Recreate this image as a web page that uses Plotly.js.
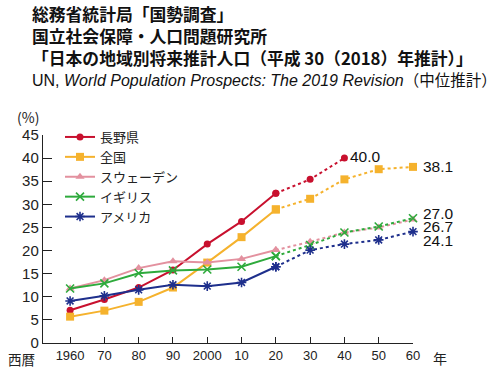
<!DOCTYPE html>
<html><head><meta charset="utf-8">
<script src="https://cdn.plot.ly/plotly-3.0.1.min.js"></script>
<style>html,body{margin:0;padding:0;background:#fff}#c{width:499px;height:368px}</style>
</head><body><div id="c"></div>
<script>
const years = [1960,1970,1980,1990,2000,2010,2020,2030,2040,2050,2060];
const tickText = ['1960','70','80','90','2000','10','20','30','40','50','60'];
const names = ['長野県','全国','スウェーデン','イギリス','アメリカ'];
const nagano = [7.1,9.4,12.0,15.8,21.4,26.3,32.4,35.4,40.0,null,null];
const zenkoku = [5.7,7.0,8.9,12.0,17.4,22.9,28.9,31.2,35.4,37.6,38.1];
const sweden = [11.8,13.6,16.2,17.7,17.4,18.2,20.1,21.9,23.9,25.0,26.7];
const uk = [11.8,12.9,15.1,15.7,15.9,16.5,18.8,21.2,23.9,25.2,27.0];
const usa = [9.1,10.2,11.5,12.6,12.3,13.1,16.5,20.1,21.4,22.3,24.1];

const series = [nagano, zenkoku, sweden, uk, usa];
const colors = ['#c8102e','#f5b22d','#e3919f','#2eaa3c','#1e2f8c'];
const symbols = ['circle','square','triangle-up','x-thin-open','asterisk-open'];
const sizes = [7,8,8,8,8];
const split = 6; // index of 2020

const traces = [];
series.forEach((s,i)=>{
  const mk = {symbol:symbols[i], size:sizes[i], color:colors[i], line:{color:colors[i], width:(i>=3?1.6:0)}};
  traces.push({x:years.slice(0,split+1), y:s.slice(0,split+1), name:names[i], mode:'lines+markers',
    line:{color:colors[i], width:2}, marker:mk, cliponaxis:false});
});
series.forEach((s,i)=>{
  const mk = {symbol:symbols[i], size:sizes[i], color:colors[i], line:{color:colors[i], width:(i>=3?1.6:0)}};
  traces.push({x:years.slice(split), y:s.slice(split), name:names[i], mode:'lines+markers', showlegend:false,
    line:{color:colors[i], width:2, dash:'dot'}, marker:mk, cliponaxis:false});
});

const L=43, R=413, T=135, B=343;
const xp = px => (px-L)/(R-L);
const yp = py => (B-py)/(B-T);
const cjk = '"Noto Sans CJK JP", sans-serif';
const sans = '"Liberation Sans", Arial, sans-serif';

function lastVal(s){ for(let k=s.length-1;k>=0;k--){ if(s[k]!==null) return [years[k], s[k]]; } }
const ann = [];
const titleLines = ['総務省統計局「国勢調査」','国立社会保障・人口問題研究所','「日本の地域別将来推計人口（平成 30（2018）年推計）」'];
ann.push({xref:'paper',yref:'paper',x:xp(31),y:yp(36),xanchor:'left',yanchor:'middle',align:'left',
  text:titleLines.map(t=>'<b>'+t+'</b>').join('<br>'),showarrow:false,borderpad:0,font:{family:cjk,size:16.8,color:'#111'}});
ann.push({xref:'paper',yref:'paper',x:xp(31),y:yp(79),xanchor:'left',yanchor:'middle',borderpad:0,
  text:'UN, <i>World Population Prospects: The 2019 Revision</i><span style="font-family:\'Noto Sans CJK JP\';font-size:15.5px">（中位推計）</span>',
  showarrow:false,font:{family:sans,size:16,color:'#111'}});
ann.push({xref:'paper',yref:'paper',x:xp(28),y:yp(117),xanchor:'center',yanchor:'middle',text:'(%)',showarrow:false,
  font:{family:cjk,size:14,color:'#222'}});
ann.push({xref:'paper',yref:'paper',x:xp(21),y:yp(359),xanchor:'center',yanchor:'middle',text:'西暦',showarrow:false,
  font:{family:cjk,size:13.5,color:'#222'}});
ann.push({xref:'paper',yref:'paper',x:xp(440),y:yp(358),xanchor:'center',yanchor:'middle',text:'年',showarrow:false,
  font:{family:cjk,size:14,color:'#222'}});
const lblShift = [[5,2],[9,0],[9,-7],[9,5],[9,-9]];
series.forEach((s,i)=>{
  const [xv,yv] = lastVal(s);
  ann.push({xref:'x',yref:'y',x:xv,y:yv,xanchor:'left',yanchor:'middle',text:yv.toFixed(1),showarrow:false,borderpad:0,
    xshift:lblShift[i][0],yshift:lblShift[i][1],font:{family:sans,size:15.5,color:'#111'}});
});

const layout = {
  width:499,height:368,margin:{l:L,r:499-R,t:T,b:368-B},
  paper_bgcolor:'#fff',plot_bgcolor:'#fff',showlegend:true,
  xaxis:{range:[1952.1,2060],tickvals:years,ticktext:tickText,showgrid:false,zeroline:false,showline:true,
    linecolor:'#222',linewidth:1.2,ticks:'inside',ticklen:6,tickcolor:'#222',
    tickfont:{family:sans,size:13,color:'#222'}},
  yaxis:{range:[0,45],dtick:5,showgrid:false,zeroline:false,showline:true,linecolor:'#222',linewidth:1.2,
    ticks:'inside',ticklen:9,tickcolor:'#222',tickfont:{family:sans,size:15,color:'#222'}},
  legend:{x:xp(60),y:yp(122),xanchor:'left',yanchor:'top',bgcolor:'rgba(0,0,0,0)',font:{family:cjk,size:13,color:'#222'},
    itemwidth:30,tracegroupgap:0},
  annotations:ann
};
Plotly.newPlot('c',traces,layout,{staticPlot:true,displayModeBar:false});
</script></body></html>
